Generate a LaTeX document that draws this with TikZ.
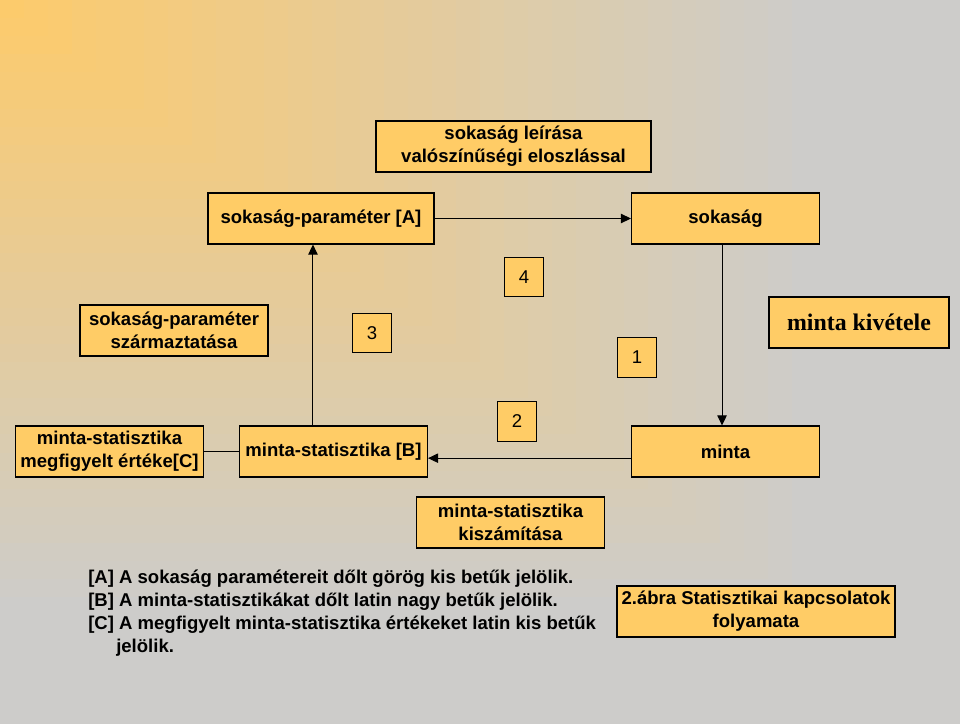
\documentclass[tikz,border=0pt]{standalone}
\usepackage{fontspec}
\setmainfont{Liberation Sans}
\newfontfamily\timesfont{Liberation Serif}
\usetikzlibrary{arrows.meta, positioning, calc}

\definecolor{boxfill}{HTML}{FFCC66}
\definecolor{bgorange}{HTML}{FECB69}
\definecolor{bggrey}{HTML}{CDCCCA}

\begin{document}
\begin{tikzpicture}[
    x=0.75pt, y=-0.75pt,
    >=Triangle,
    box/.style={rectangle, draw=black, fill=boxfill, line width=0.8pt, inner sep=0pt, minimum width=141pt, minimum height=38.25pt, align=center, font=\bfseries\fontsize{13.9}{17.25}\selectfont},
    numbox/.style={box, minimum width=29.5pt, minimum height=29.5pt, font=\fontsize{13.9}{17}\selectfont},
    flow/.style={-{Triangle[length=7.5pt,width=7pt]}, line width=0.75pt, black},
    link/.style={line width=0.75pt, black},
    note/.style={align=left, inner sep=0pt, font=\bfseries\fontsize{13.9}{17.25}\selectfont}
]
    \useasboundingbox (0,0) rectangle (960,724);

    % Background (corner gradient)
    \foreach \i in {40,39,...,1}{
        \pgfmathsetmacro{\s}{\i/40}
        \pgfmathsetmacro{\p}{max(0,100*(1-\s/0.85))}
        \fill[bgorange!\p!bggrey] (0,0) rectangle ({960*\s},{724*\s});
    }

    % ========== Boxes ==========
    \node (leiras) [box, minimum width=206.25pt] at (513.5,146.5) {sokaság leírása\\valószínűségi eloszlással};
    \node (param) [box, minimum width=169.5pt] at (321,218.5) {sokaság-paraméter [A]};
    \node (sokasag) [box] at (725.5,218.5) {sokaság};
    \node (szarm) [box] at (174,330.5) {sokaság-paraméter\\származtatása};
    \node (kivetel) [box, minimum width=135pt, font=\timesfont\bfseries\fontsize{17.9}{20}\selectfont] at (859,322.5) {minta kivétele};
    \node (megfig) [box] at (109.5,451.5) {minta-statisztika\\megfigyelt értéke[C]};
    \node (stat) [box] at (333.5,451.5) {minta-statisztika [B]};
    \node (minta) [box] at (725.5,451.5) {minta};
    \node (kiszam) [box] at (510.5,522.5) {minta-statisztika\\kiszámítása};
    \node (abra) [box, minimum width=208.5pt] at (756,611.5) {2.ábra Statisztikai kapcsolatok\\folyamata};

    % Step numbers
    \node (n4) [numbox] at (524,277) {4};
    \node (n3) [numbox] at (372,333) {3};
    \node (n1) [numbox] at (637,357.5) {1};
    \node (n2) [numbox] at (517,421.5) {2};

    % ========== Connectors ==========
    \draw [flow] (param.east) -- (sokasag.west);
    \draw [flow] ([xshift=-2.6pt]sokasag.south) -- ([xshift=-2.6pt]minta.north);
    \draw [flow] ([yshift=-5pt]minta.west) -- ([yshift=-5pt]stat.east);
    \draw [flow] ([xshift=-15.4pt]stat.north) -- ([xshift=-15.4pt]stat.north |- param.south);
    \draw [link] (stat.west) -- (megfig.east);

    % Notes
    \node (notes) [note, anchor=north west] at (88,570) {%
        {[A]} A sokaság paramétereit dőlt görög kis betűk jelölik.\\
        {[B]} A minta-statisztikákat dőlt latin nagy betűk jelölik.\\
        {[C]} A megfigyelt minta-statisztika értékeket latin kis betűk\\
        \hspace*{21pt}jelölik.};
\end{tikzpicture}
\end{document}
